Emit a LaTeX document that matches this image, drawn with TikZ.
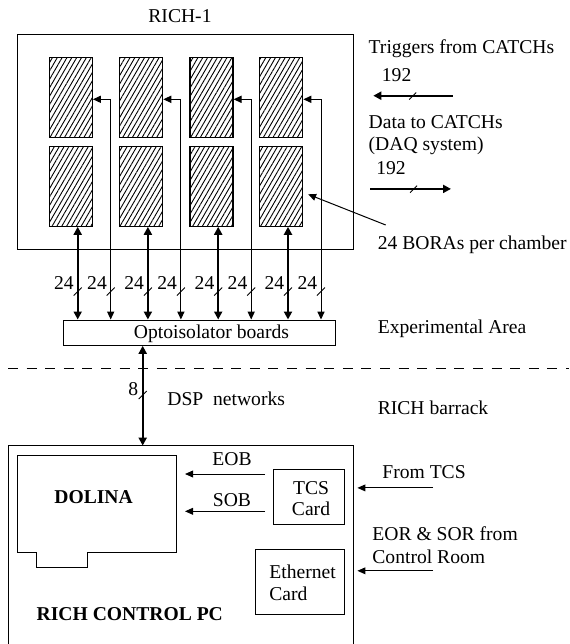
\documentclass[tikz,border=0pt]{standalone}
\usepackage{fontspec}
\setmainfont{Liberation Serif}
\usetikzlibrary{arrows.meta,patterns.meta}

\begin{document}
\begin{tikzpicture}[
    x=0.5pt, y=-0.5pt,
    every node/.style={font=\fontsize{9.8}{10.8}\selectfont},
    bora node/.style={draw, line width=0.6pt, inner sep=0pt, minimum width=21.5pt, minimum height=39.9pt,
        pattern={Lines[angle=60, distance=2.1pt, line width=0.45pt]}},
    box node/.style={draw, line width=0.5pt, inner sep=0pt},
    txt node/.style={inner sep=0pt, anchor=west},
    bus edge/.style={line width=1pt, {Triangle[length=4pt,width=4pt]}-{Triangle[length=4pt,width=4pt]}},
    big edge/.style={line width=1pt, -{Triangle[length=4pt,width=4pt]}},
    trg edge/.style={line width=0.5pt, {Triangle[length=4pt,width=3.6pt]}-{Triangle[length=4pt,width=3.6pt]}},
    sig edge/.style={line width=0.5pt, -{Triangle[length=4pt,width=3.4pt]}},
    mark edge/.style={line width=0.45pt}
]
\useasboundingbox (0,0) rectangle (569,644);

% RICH-1 and its BORAs
\node[box node, minimum width=168.25pt, minimum height=107.45pt] (rich) at (185.55,141.85) {};
\node (richtxt) at (180,16.4) {RICH-1};
\node[box node, minimum width=135.55pt, minimum height=12.65pt] (opto) at (199.5,332.65) {};
\node (optotxt) at (211.5,333.5) {Optoisolator boards};

\foreach \i/\x in {1/71,2/141.2,3/211.5,4/281.3} {
    \node[bora node] (t\i) at (\x,97.6) {};
    \node[bora node] (b\i) at (\x,186.3) {};
    % data lines
    \draw[bus edge] ([xshift=3.35pt]b\i.south) -- ([xshift=3.35pt]b\i.south |- opto.north);
    \node (d\i) at (\x-7,282.7) {24};
    \draw[mark edge] (\x+2.7,295.5) -- ++(8,-8);
    % trigger lines
    \coordinate (trg\i) at (\x+39.7,99.3);
    \draw[trg edge] (t\i.east |- trg\i) -- (trg\i) -- (trg\i |- opto.north);
    \node (tr\i) at (\x+26,282.7) {24};
    \draw[mark edge] (\x+35.7,295.5) -- ++(8,-8);
}

% links to the CATCHs
\node[txt node] (trgtxt) at (368.3,48.5) {Triggers from CATCHs};
\node (trgn) at (396.6,75.2) {192};
\coordinate (trgA) at (452.7,95.7);
\coordinate (trgB) at (373.3,95.7);
\draw[big edge] (trgA) -- (trgB);
\draw[mark edge] (409.2,99.5) -- ++(7,-7);
\node[txt node] (datatxt) at (368.3,122.4) {Data to CATCHs};
\node[txt node] (daqtxt) at (368.3,145.8) {(DAQ system)};
\node (datan) at (391,168.4) {192};
\coordinate (dataA) at (370,188.9);
\coordinate (dataB) at (451,188.9);
\draw[big edge] (dataA) -- (dataB);
\draw[mark edge] (410.1,192.7) -- ++(7,-7);

\node[txt node] (boratxt) at (377.4,244.4) {24 BORAs per chamber};
\coordinate (borapt) at (385.7,225);
\draw[sig edge] (borapt) -- ([shift={(2.35pt,-4pt)}]b4.east);
\node[txt node] (exptxt) at (377.4,328.5) {Experimental Area};

% border between the areas
\draw[line width=0.5pt, dash pattern=on 5pt off 4.3pt] (8,368.4) -- (569,368.4);

% DSP link to the PC
\coordinate (dsp) at (142.7,445.6);
\draw[bus edge] (opto.south -| dsp) -- (dsp);
\node (dspn) at (133.3,389.5) {8};
\draw[mark edge] (138.7,399) -- ++(8,-8);
\node[txt node] (dsptxt) at (167,398.4) {DSP\ \ networks};
\node[txt node] (barrack) at (377.4,407.4) {RICH barrack};

% RICH control PC
\coordinate (pcE) at (353.8,445.6);
\draw[line width=0.5pt] (8,644) |- (pcE) -- (353.8,644);
\draw[line width=0.5pt] (17.4,455) -- (176.7,455) -- (176.7,552.4) -- (87.4,552.4) -- (87.4,567.6)
    -- (36.3,567.6) -- (36.3,552.4) -- (17.4,552.4) -- cycle;
\node[font=\fontsize{9.8}{10.8}\selectfont\bfseries] (dolina) at (93.6,496.9) {DOLINA};
\node[box node, minimum width=35.55pt, minimum height=27.9pt] (tcs) at (308.75,496.9) {};
\node[align=center, inner sep=0pt] (tcstxt) at (311,498.5) {TCS\\Card};
\node[box node, minimum width=44.45pt, minimum height=32.65pt] (eth) at (299.85,582.15) {};
\node[align=left, inner sep=0pt, anchor=west] (ethtxt) at (269,583) {Ethernet\\Card};
\node[txt node, font=\fontsize{9.8}{10.8}\selectfont\bfseries] (pctxt) at (36.3,614) {RICH CONTROL PC};

\coordinate (eob) at (185,474);
\coordinate (sob) at (185,511.3);
\draw[sig edge] ([xshift=-3.8pt]tcs.west |- eob) -- (eob);
\draw[sig edge] ([xshift=-3.8pt]tcs.west |- sob) -- (sob);
\node (eobtxt) at (232,459.1) {EOB};
\node (sobtxt) at (232,499.8) {SOB};

\node[txt node] (fromtcs) at (382,472.3) {From TCS};
\coordinate (tcsin) at (433,487.9);
\draw[sig edge] (tcsin) -- ([xshift=1.8pt]tcsin -| pcE);
\node[txt node] (eortxt) at (372,533.9) {EOR \& SOR from};
\node[txt node] (roomtxt) at (372,556.5) {Control Room};
\coordinate (ethin) at (433,570.8);
\draw[sig edge] (ethin) -- ([xshift=1.8pt]ethin -| pcE);

\end{tikzpicture}
\end{document}
